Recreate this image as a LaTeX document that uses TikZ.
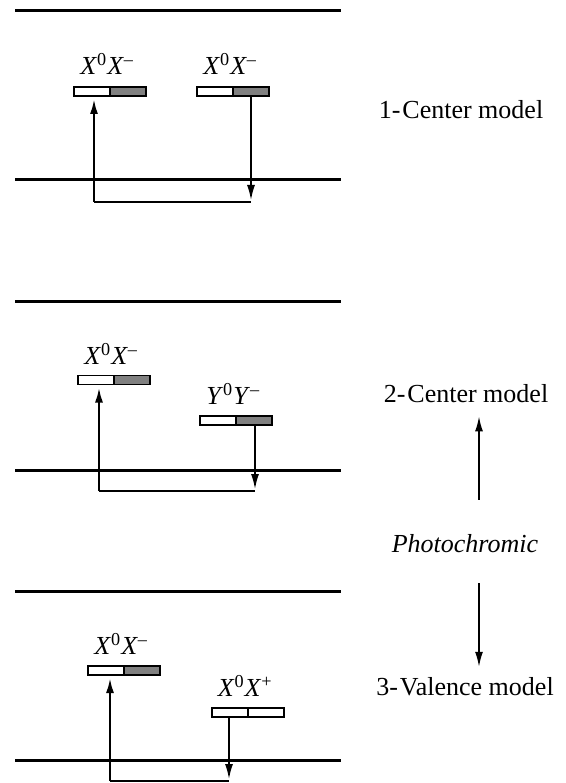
\documentclass[tikz,border=0pt]{standalone}
\usepackage{fontspec}
\setmainfont{Liberation Serif}
\usetikzlibrary{arrows.meta, positioning}

\newcommand{\pairlabel}[3]{\textit{#1}\textsuperscript{0}\kern0.5pt\textit{#2}\textsuperscript{#3}}

\begin{document}
\begin{tikzpicture}[
            x=1pt, y=-1pt,
            every node/.style={font=\fontsize{26}{30}\selectfont},
            half/.style={
                rectangle,
                draw,
                line width=1.4pt,
                minimum width=36pt,
                minimum height=9pt,
                inner sep=0pt,
                outer sep=0pt,
                fill=white
            },
            dark/.style={half, fill=black!50},
            tag/.style={inner sep=0pt, xshift=-3pt},
            model/.style={anchor=base, inner sep=0pt},
            band/.style={line width=3pt},
            link/.style={line width=1.5pt},
            uparrow/.style={-{Latex[length=15pt,width=8pt]}, line width=2.3pt, shorten >=3pt},
            downarrow/.style={-{Latex[length=15pt,width=8pt]}, line width=1.5pt}
        ]
        \useasboundingbox (0,0) rectangle (565,783);

        % 1-Center model
        \draw[band] (15,11) -- (341,11);
        \draw[band] (15,180) -- (341,180);
        \node[half] (a1) at (92,91.5) {};
        \node[dark, right=0pt of a1] (a2) {};
        \node[half] (b1) at (215,91.5) {};
        \node[dark, right=0pt of b1] (b2) {};
        \node[tag, above=12pt of a1.north east] (la) {\pairlabel{X}{X}{–}};
        \node[tag, above=12pt of b1.north east] (lb) {\pairlabel{X}{X}{–}};
        \coordinate (s1) at (94,202);
        \coordinate (e1) at (251,202);
        \draw[uparrow] (s1) -- (s1 |- a1.south);
        \draw[link] (s1) -- (e1);
        \draw[downarrow] (b2.south) -- ([yshift=2pt]e1);

        % 2-Center model
        \draw[band] (15,301) -- (341,301);
        \draw[band] (15,470) -- (341,470);
        \node[half] (c1) at (96,380) {};
        \node[dark, right=0pt of c1] (c2) {};
        \node[half] (d1) at (218,420.5) {};
        \node[dark, right=0pt of d1] (d2) {};
        \node[tag, above=11pt of c1.north east] (lc) {\pairlabel{X}{X}{–}};
        \node[tag, above=11pt of d1.north east] (ld) {\pairlabel{Y}{Y}{–}};
        \coordinate (s2) at (99,491);
        \coordinate (e2) at (255,491);
        \draw[uparrow] (s2) -- (s2 |- c1.south);
        \draw[link] (s2) -- (e2);
        \draw[downarrow] (e2 |- d2.south) -- ([yshift=2pt]e2);

        % 3-Valence model
        \draw[band] (15,591) -- (341,591);
        \draw[band] (15,760) -- (341,760);
        \node[half] (f1) at (106,670.5) {};
        \node[dark, right=0pt of f1] (f2) {};
        \node[half] (g1) at (230,712.5) {};
        \node[half, right=0pt of g1] (g2) {};
        \node[tag, above=11pt of f1.north east] (lf) {\pairlabel{X}{X}{–}};
        \node[tag, above=11pt of g1.north east] (lg) {\pairlabel{X}{X}{+}};
        \coordinate (s3) at (110,781);
        \coordinate (e3) at (229,781);
        \draw[uparrow] (s3) -- (s3 |- f1.south);
        \draw[link] (s3) -- (e3);
        \draw[downarrow] (e3 |- g1.south) -- ([yshift=2pt]e3);

        % Models
        \node[model] (m1) at (461,119) {1-\kern2pt Center model};
        \node[model] (m2) at (466,402) {2-\kern2pt Center model};
        \node[model] (m3) at (465,695) {3-\kern2pt Valence model};
        \node[model, font=\fontsize{26}{30}\selectfont\itshape] (ph) at (465,552) {Photochromic};
        \draw[downarrow, shorten <=34pt, shorten >=14pt] ([xshift=14pt]ph.north) -- ([xshift=13pt]m2.south);
        \draw[downarrow, shorten <=31pt, shorten >=10pt] ([xshift=14pt]ph.south) -- ([xshift=14pt]m3.north);

        \end{tikzpicture}
\end{document}
